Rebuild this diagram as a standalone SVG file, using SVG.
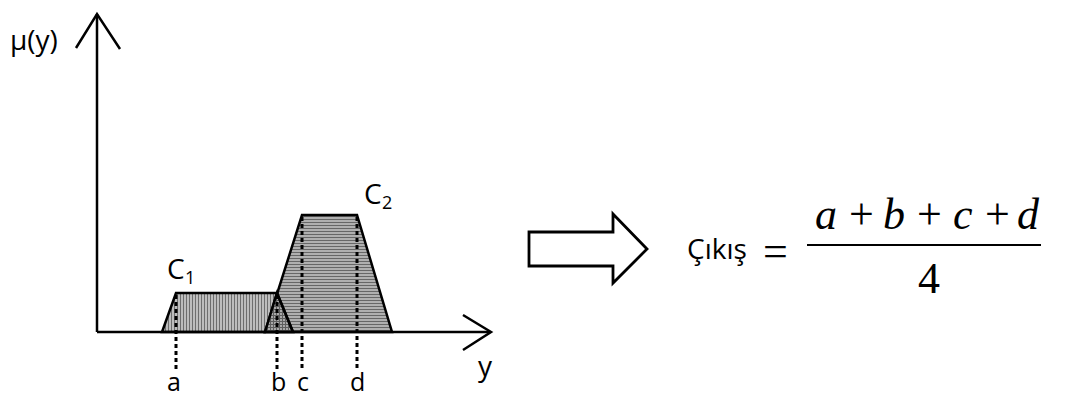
<svg xmlns="http://www.w3.org/2000/svg" width="1070" height="398" viewBox="0 0 1070 398">
<style>
.ax{stroke:#000;stroke-width:2.5;fill:none}
.sh{stroke:#000;stroke-width:2.5;stroke-linejoin:miter}
.dash{stroke:#000;stroke-width:3;stroke-dasharray:4,3;fill:none}
.lbl{font-family:"Open Sans","Liberation Sans",sans-serif;font-size:25px;fill:#000}
.big{font-family:"Open Sans","Liberation Sans",sans-serif;font-size:28px;fill:#000}
.sub{font-family:"Open Sans","Liberation Sans",sans-serif;font-size:18px;fill:#000}
.math{font-family:"Liberation Serif",serif;font-size:44px;fill:#000}
.it{font-style:italic}
</style>
<defs>
<pattern id="vh" width="3" height="4" patternUnits="userSpaceOnUse">
<rect width="3" height="4" fill="#bdbdbd"/>
<rect width="1" height="4" fill="#6e6e6e"/>
</pattern>
<pattern id="hh" width="4" height="3" patternUnits="userSpaceOnUse">
<rect width="4" height="3" fill="#b0b0b0"/>
<rect width="4" height="1" fill="#676767"/>
</pattern>
<pattern id="xh" width="3" height="3" patternUnits="userSpaceOnUse">
<rect width="3" height="3" fill="#a8a8a8"/>
<rect width="1" height="3" fill="#5e5e5e"/>
<rect width="3" height="1" fill="#5e5e5e"/>
</pattern>
<filter id="glow" x="-5%" y="-50%" width="110%" height="400%">
<feGaussianBlur stdDeviation="3"/>
</filter>
</defs>
<g id="c2">
<polygon class="sh" points="265,332 302,215 357,215 392,332" fill="url(#hh)"/>
</g>
<g id="c1">
<polygon class="sh" points="162,332 176,293 277,293 265,332" fill="url(#vh)"/>
<polygon class="sh" points="265,332 277,293 293,332" fill="url(#xh)"/>
<line class="sh" x1="277" y1="293" x2="293" y2="332"/>
</g>
<g id="axes">
<line x1="97" y1="336" x2="488" y2="336" stroke="#d6e4f2" stroke-width="6" filter="url(#glow)"/>
<line class="ax" x1="97" y1="332" x2="97" y2="14"/>
<polyline class="ax" points="76,48 97,14 120,49"/>
<line class="ax" x1="97" y1="332" x2="490" y2="332"/>
<polyline class="ax" points="463,315 491,332 463,350"/>
</g>
<g id="connectors">
<line class="dash" x1="176" y1="295" x2="176" y2="370"/>
<line class="dash" x1="277" y1="295" x2="277" y2="370"/>
<line class="dash" x1="302" y1="217" x2="302" y2="370"/>
<line class="dash" x1="357" y1="217" x2="357" y2="370"/>
</g>
<g id="labels">
<text class="big" x="10" y="50">μ(y)</text>
<text class="big" x="167" y="279">C</text><text class="sub" x="185" y="284">1</text>
<text class="big" x="364" y="204">C</text><text class="sub" x="382" y="209">2</text>
<text class="lbl" x="167" y="391">a</text>
<text class="lbl" x="271" y="391">b</text>
<text class="lbl" x="297" y="391">c</text>
<text class="lbl" x="350" y="391">d</text>
<text class="big" x="478" y="376">y</text>
</g>
<g id="blockarrow">
<polygon points="529,232 613,232 613,214 647,249 613,283 613,266 529,266" fill="#fff" stroke="#000" stroke-width="2.8" stroke-linejoin="miter"/>
</g>
<g id="formula">
<text class="big" x="687" y="259">Çıkış</text>
<text class="math" x="763" y="266">=</text>
<text class="math it" x="815" y="229">a</text>
<text class="math" x="849" y="229">+</text>
<text class="math it" x="883" y="229">b</text>
<text class="math" x="917" y="229">+</text>
<text class="math it" x="953" y="229">c</text>
<text class="math" x="985" y="229">+</text>
<text class="math it" x="1017" y="229">d</text>
<line x1="807" y1="245" x2="1041" y2="245" stroke="#000" stroke-width="2"/>
<text class="math" x="929" y="293" text-anchor="middle">4</text>
</g>
</svg>
